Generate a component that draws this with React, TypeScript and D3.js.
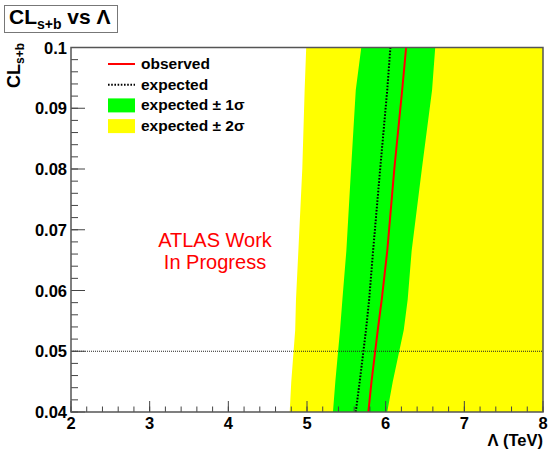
import React from "react";
import * as d3 from "d3";

const clsLevels = [0.04, 0.045, 0.0535, 0.0585, 0.0665, 0.08, 0.093, 0.1];
const yellowLow = [4.78, 4.8, 4.85, 4.86, 4.89, 4.94, 4.97, 4.99];
const greenLow = [5.33, 5.36, 5.42, 5.45, 5.5, 5.56, 5.62, 5.69];
const expected = [5.62, 5.67, 5.75, 5.79, 5.84, 5.93, 6.02, 6.06];
const observed = [5.78, 5.82, 5.9, 5.95, 6.02, 6.11, 6.21, 6.26];
const greenHigh = [6.02, 6.09, 6.23, 6.28, 6.33, 6.46, 6.59, 6.63];
const yellowHigh = [8.2, 8.2, 8.2, 8.2, 8.2, 8.2, 8.2, 8.2];

const xTicks = [2, 3, 4, 5, 6, 7, 8];
const yTicks = [0.04, 0.05, 0.06, 0.07, 0.08, 0.09, 0.1];
const yTickLabels = ["0.04", "0.05", "0.06", "0.07", "0.08", "0.09", "0.1"];
const limitLevel = 0.05;

const legendItems = [
  { label: "observed", kind: "obs" },
  { label: "expected", kind: "exp" },
  { label: "expected \u00b1 1\u03c3", kind: "g" },
  { label: "expected \u00b1 2\u03c3", kind: "y" },
];

const FONT = "'Liberation Sans', Arial, Helvetica, sans-serif";

export default function App() {
  const L = 71, R = 543, T = 47.5, B = 412;
  const x = d3.scaleLinear().domain([2, 8]).range([L, R]);
  const y = d3.scaleLinear().domain([0.04, 0.1]).range([B, T]);

  const band = (lo: number[], hi: number[]) =>
    d3
      .area<number>()
      .y((_, i) => y(clsLevels[i]))
      .x0((_, i) => x(lo[i]))
      .x1((_, i) => x(hi[i]))(clsLevels) as string;

  const line = (vals: number[]) =>
    d3
      .line<number>()
      .x((_, i) => x(vals[i]))
      .y((_, i) => y(clsLevels[i]))(clsLevels) as string;

  const xMinor = d3.range(2, 8.0001, 0.2);
  const yMinor = d3.range(0.04, 0.10001, 0.002);

  return (
    <svg width={549} height={450} style={{ position: "absolute", left: 0, top: 0 }}>
      <rect width={549} height={450} fill="#fff" />
      <defs>
        <clipPath id="plotclip">
          <rect x={L} y={T} width={R - L} height={B - T} />
        </clipPath>
      </defs>
      <g clipPath="url(#plotclip)">
        <path d={band(yellowLow, yellowHigh)} fill="#ffff00" />
        <path d={band(greenLow, greenHigh)} fill="#00ff00" />
        <path d={line(expected)} fill="none" stroke="#000" strokeWidth={2} strokeDasharray="1.6,1.6" />
        <path d={line(observed)} fill="none" stroke="#ff0000" strokeWidth={2} />
        <line x1={L} x2={R} y1={y(limitLevel)} y2={y(limitLevel)} stroke="#222" strokeWidth={1} strokeDasharray="1,1" />
      </g>
      {xMinor.map((v, i) => (
        <line key={"xm" + i} x1={x(v)} x2={x(v)} y1={B} y2={B - 5.5} stroke="#444" strokeWidth={1} />
      ))}
      {xTicks.map((v) => (
        <line key={"xM" + v} x1={x(v)} x2={x(v)} y1={B} y2={B - 11} stroke="#444" strokeWidth={1} />
      ))}
      {yMinor.map((v, i) => (
        <line key={"ym" + i} x1={L} x2={L + 7} y1={y(v)} y2={y(v)} stroke="#444" strokeWidth={1} />
      ))}
      {yTicks.map((v) => (
        <line key={"yM" + v} x1={L} x2={L + 14} y1={y(v)} y2={y(v)} stroke="#444" strokeWidth={1} />
      ))}
      <rect x={L} y={T} width={R - L} height={B - T} fill="none" stroke="#555" strokeWidth={1.5} />
      {yTicks.map((v, i) => (
        <text key={"yl" + v} x={L - 4} y={y(v) + 6} textAnchor="end" fontFamily={FONT} fontWeight="bold" fontSize={16.5} fill="#000">
          {yTickLabels[i]}
        </text>
      ))}
      {xTicks.map((v) => (
        <text key={"xl" + v} x={x(v)} y={429} textAnchor="middle" fontFamily={FONT} fontWeight="bold" fontSize={16.5} fill="#000">
          {v}
        </text>
      ))}
      <text x={R} y={446} textAnchor="end" fontFamily={FONT} fontWeight="bold" fontSize={16.5}>
        {"\u039b (TeV)"}
      </text>
      <text transform="translate(20,43) rotate(-90)" textAnchor="end" fontFamily={FONT} fontWeight="bold" fontSize={18}>
        CL
        <tspan fontSize={12} dy={4}>s+b</tspan>
      </text>
      <rect x={4.5} y={5.5} width={113} height={27} fill="#fff" stroke="#777" strokeWidth={1} />
      <text x={9} y={24} fontFamily={FONT} fontWeight="bold" fontSize={21}>
        CL
        <tspan fontSize={14} dy={5}>s+b</tspan>
        <tspan dy={-5}>{" vs \u039b"}</tspan>
      </text>
      {legendItems.map((it, i) => {
        const cy = 64 + i * 20.7;
        return (
          <g key={it.label}>
            {it.kind === "obs" && <line x1={108} x2={135} y1={cy} y2={cy} stroke="#ff0000" strokeWidth={2} />}
            {it.kind === "exp" && (
              <line x1={108} x2={135} y1={cy} y2={cy} stroke="#000" strokeWidth={2} strokeDasharray="1.6,1.6" />
            )}
            {it.kind === "g" && <rect x={108} y={cy - 7} width={27} height={14} fill="#00ff00" />}
            {it.kind === "y" && <rect x={108} y={cy - 7} width={27} height={14} fill="#ffff00" />}
            <text x={141} y={cy + 5} fontFamily={FONT} fontWeight="bold" fontSize={15.5}>
              {it.label}
            </text>
          </g>
        );
      })}
      <text x={215} y={247} textAnchor="middle" fontFamily={FONT} fontSize={20} fill="#ff0000">
        ATLAS Work
      </text>
      <text x={215} y={269} textAnchor="middle" fontFamily={FONT} fontSize={20} fill="#ff0000">
        In Progress
      </text>
    </svg>
  );
}
